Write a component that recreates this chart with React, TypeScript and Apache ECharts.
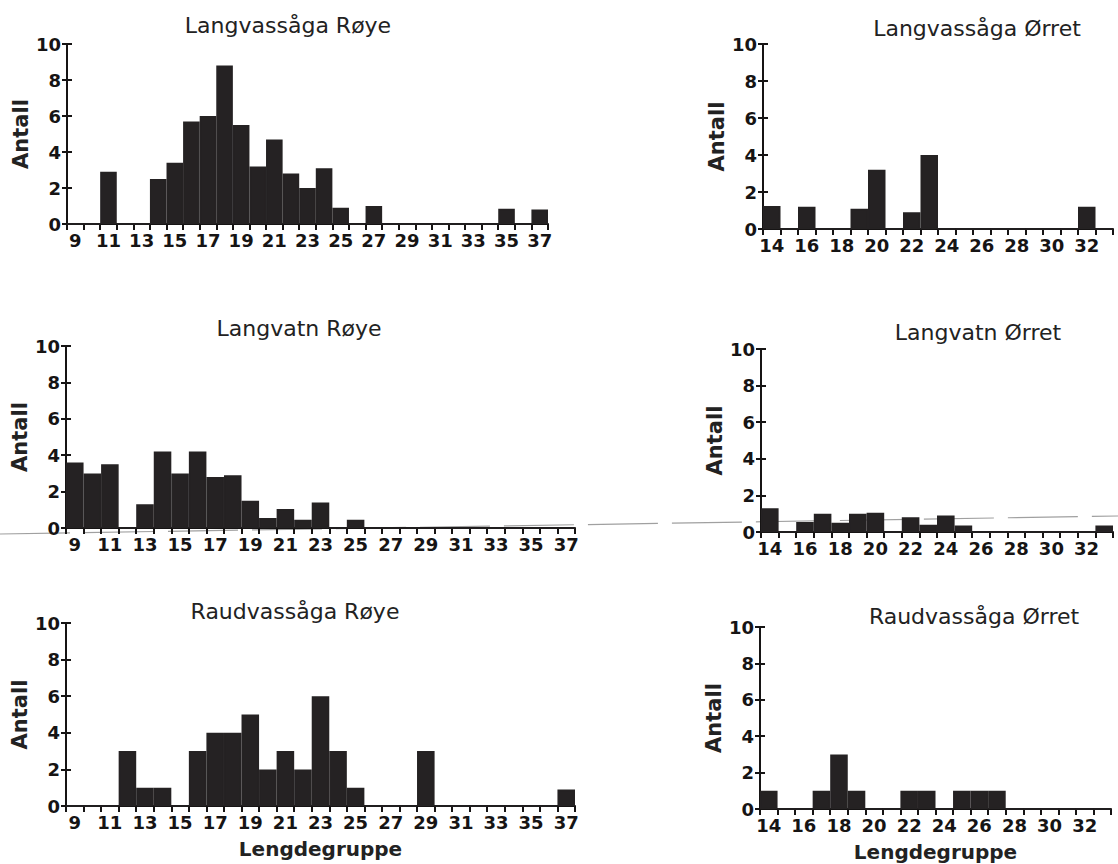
import React, { useEffect, useRef } from "react";
import * as echarts from "echarts";

const leftCats = ["9","10","11","12","13","14","15","16","17","18","19","20","21","22","23","24","25","26","27","28","29","30","31","32","33","34","35","36","37"];
const rightCats = ["14","15","16","17","18","19","20","21","22","23","24","25","26","27","28","29","30","31","32","33"];

const langvassagaRoye = [0,0,2.9,0,0,2.5,3.4,5.7,6.0,8.8,5.5,3.2,4.7,2.8,2.0,3.1,0.9,0,1.0,0,0,0,0,0,0,0,0.85,0,0.8];
const langvassagaOrret = [1.25,0,1.2,0,0,1.1,3.2,0,0.9,4.0,0,0,0,0,0,0,0,0,1.2,0];
const langvatnRoye = [3.6,3.0,3.5,0,1.3,4.2,3.0,4.2,2.8,2.9,1.5,0.55,1.05,0.45,1.4,0,0.45,0,0,0,0,0,0,0,0,0,0,0,0];
const langvatnOrret = [1.3,0,0.55,1.0,0.5,1.0,1.05,0,0.8,0.4,0.9,0.35,0,0,0,0,0,0,0,0.35];
const raudvassagaRoye = [0,0,0,3,1,1,0,3,4,4,5,2,3,2,6,3,1,0,0,0,3,0,0,0,0,0,0,0,0.9];
const raudvassagaOrret = [1,0,0,1,3,1,0,0,1,1,0,1,1,1,0,0,0,0,0,0];

const yTicks = [0, 2, 4, 6, 8, 10];
const titles = ["Langvassåga Røye","Langvassåga Ørret","Langvatn Røye","Langvatn Ørret","Raudvassåga Røye","Raudvassåga Ørret"];
const yName = "Antall";
const xName = "Lengdegruppe";

const FONT = "DejaVu Sans";
const INK = "#161414";
const BAR = "#252223";

const panels = [
  { cats: leftCats, data: langvassagaRoye, grid: { left: 67, top: 44, width: 481, height: 180 }, title: [283, 9], xName: false },
  { cats: rightCats, data: langvassagaOrret, grid: { left: 763, top: 44, width: 350, height: 185 }, title: [972, 12], xName: false },
  { cats: leftCats, data: langvatnRoye, grid: { left: 66, top: 346, width: 509, height: 182 }, title: [294, 312], xName: false },
  { cats: rightCats, data: langvatnOrret, grid: { left: 761, top: 349, width: 352, height: 183 }, title: [973, 316], xName: false },
  { cats: leftCats, data: raudvassagaRoye, grid: { left: 66, top: 623, width: 509, height: 183 }, title: [290, 595], xName: true },
  { cats: rightCats, data: raudvassagaOrret, grid: { left: 760, top: 627, width: 351, height: 182 }, title: [969, 600], xName: true },
];

export default function App() {
  const ref = useRef<HTMLDivElement>(null);
  useEffect(() => {
    if (!ref.current) return;
    const chart = echarts.init(ref.current, null, { renderer: "svg" });
    const grid: any[] = [];
    const xAxis: any[] = [];
    const yAxis: any[] = [];
    const series: any[] = [];
    const title: any[] = [];
    panels.forEach((p, i) => {
      grid.push({ ...p.grid, containLabel: false });
      title.push({
        text: titles[i],
        left: p.title[0],
        top: p.title[1],
        textAlign: "center",
        textStyle: { fontFamily: FONT, fontSize: 22, fontWeight: "normal", color: "#222" },
      });
      xAxis.push({
        type: "category",
        gridIndex: i,
        data: p.cats,
        boundaryGap: true,
        axisLine: { show: true, lineStyle: { color: INK, width: 2 } },
        axisTick: { show: true, interval: 0, length: 6, lineStyle: { color: INK, width: 2 } },
        axisLabel: { interval: 1, fontFamily: FONT, fontSize: 18, fontWeight: "bold", color: INK, margin: 7 },
        splitLine: { show: false },
        name: p.xName ? xName : "",
        nameLocation: "middle",
        nameGap: 33,
        nameTextStyle: { fontFamily: FONT, fontSize: 20, fontWeight: "bold", color: "#222" },
      });
      yAxis.push({
        type: "value",
        gridIndex: i,
        min: yTicks[0],
        max: yTicks[yTicks.length - 1],
        interval: 2,
        axisLine: { show: true, lineStyle: { color: INK, width: 2 } },
        axisTick: { show: true, length: 5, lineStyle: { color: INK, width: 2 } },
        axisLabel: { fontFamily: FONT, fontSize: 18, fontWeight: "bold", color: INK, margin: 6 },
        splitLine: { show: false },
        name: yName,
        nameLocation: "middle",
        nameRotate: 90,
        nameGap: 36,
        nameTextStyle: { fontFamily: FONT, fontSize: 21, fontWeight: "bold", color: "#222" },
      });
      series.push({
        type: "bar",
        xAxisIndex: i,
        yAxisIndex: i,
        data: p.data,
        barCategoryGap: "0%",
        itemStyle: { color: BAR, borderColor: BAR, borderWidth: 1.6 },
        silent: true,
        z: 2,
      });
    });
    panels.forEach((p, i) => {
      yAxis.push({
        type: "value",
        gridIndex: i,
        position: "left",
        offset: 0,
        min: yTicks[0],
        max: yTicks[yTicks.length - 1],
        interval: 2,
        axisLine: { show: false },
        axisTick: { show: true, inside: true, length: 5, lineStyle: { color: INK, width: 2 } },
        axisLabel: { show: false },
        splitLine: { show: false },
      });
    });
    chart.setOption({
      animation: false,
      backgroundColor: "#ffffff",
      title,
      grid,
      xAxis,
      yAxis,
      series,
      graphic: [
        {
          type: "line",
          z: 0,
          silent: true,
          shape: { x1: 0, y1: 534, x2: 1118, y2: 516 },
          style: { stroke: "#a0a0a0", lineWidth: 1.2, lineDash: [70, 14] },
        },
      ],
    });
    return () => chart.dispose();
  }, []);
  return (
    <div
      ref={ref}
      style={{ position: "fixed", left: 0, top: 0, width: 1118, height: 864, background: "#fff" }}
    />
  );
}
